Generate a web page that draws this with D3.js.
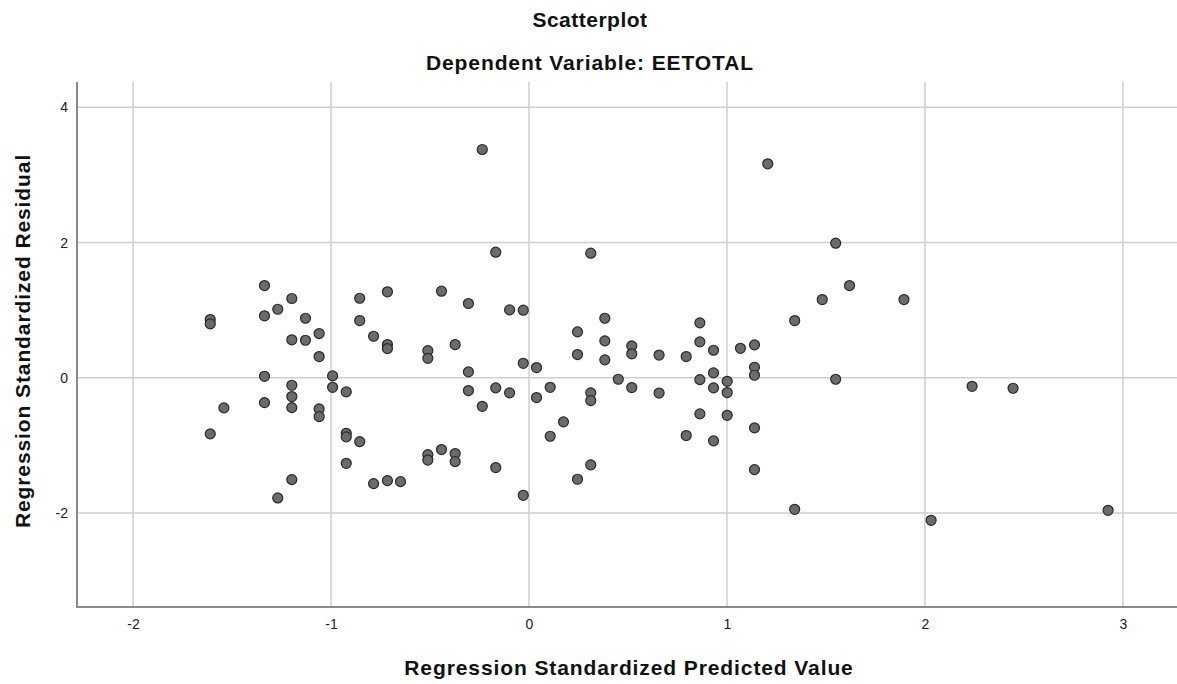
<!DOCTYPE html>
<html>
<head>
<meta charset="utf-8">
<script src="https://cdn.jsdelivr.net/npm/d3@7"></script>
<style>
  body { margin: 0; background: #fff; }
  svg { display: block; }
  text { font-family: "Liberation Sans", Arial, sans-serif; }
</style>
</head>
<body>
<svg id="chart" width="1177" height="684"></svg>
<script>
// Data: regression standardized predicted value (x) and standardized residual (y)
const predicted = [
  -1.610, -1.610, -1.610, -1.541,
  -1.336, -1.336, -1.336, -1.336,
  -1.269, -1.269,
  -1.198, -1.198, -1.198, -1.198, -1.198, -1.198,
  -1.129, -1.129,
  -1.060, -1.060, -1.060, -1.060,
  -0.992, -0.992,
  -0.923, -0.923, -0.923, -0.923,
  -0.855, -0.855, -0.855,
  -0.785, -0.785,
  -0.715, -0.715, -0.715, -0.715,
  -0.649,
  -0.511, -0.511, -0.511, -0.511,
  -0.442, -0.442,
  -0.373, -0.373, -0.373,
  -0.306, -0.306, -0.306,
  -0.236, -0.236,
  -0.168, -0.168, -0.168,
  -0.098, -0.098,
  -0.029, -0.029, -0.029,
  0.038, 0.038,
  0.107, 0.107,
  0.174,
  0.245, 0.245, 0.245,
  0.312, 0.312, 0.312, 0.312,
  0.383, 0.383, 0.383,
  0.451,
  0.519, 0.519, 0.519,
  0.657, 0.657,
  0.794, 0.794,
  0.863, 0.863, 0.863, 0.863,
  0.932, 0.932, 0.932, 0.932,
  1.001, 1.001, 1.001,
  1.068,
  1.139, 1.139, 1.139, 1.139, 1.139,
  1.206,
  1.342, 1.342,
  1.481,
  1.549, 1.549,
  1.619,
  1.894,
  2.031,
  2.238,
  2.445,
  2.925
];
const residual = [
  0.861, 0.797, -0.830, -0.445,
  1.364, 0.916, 0.022, -0.367,
  1.013, -1.777,
  1.172, 0.561, -0.111, -0.278, -0.441, -1.506,
  0.880, 0.555,
  0.654, 0.314, -0.460, -0.574,
  0.028, -0.141,
  -0.209, -0.821, -0.874, -1.265,
  1.176, 0.846, -0.944,
  0.614, -1.565,
  1.271, 0.491, 0.432, -1.521,
  -1.536,
  0.402, 0.288, -1.136, -1.217,
  1.280, -1.062,
  0.491, -1.121, -1.240,
  1.098, 0.087, -0.189,
  3.376, -0.422,
  1.857, -0.149, -1.328,
  1.004, -0.223,
  0.999, 0.214, -1.738,
  0.151, -0.293,
  -0.141, -0.865,
  -0.652,
  0.679, 0.343, -1.501,
  1.842, -0.223, -0.337, -1.288,
  0.880, 0.546, 0.265,
  -0.022,
  0.472, 0.354, -0.145,
  0.336, -0.226,
  0.314, -0.855,
  0.812, 0.531, -0.027, -0.534,
  0.407, 0.072, -0.149, -0.933,
  -0.052, -0.219, -0.555,
  0.436,
  0.487, 0.155, 0.037, -0.741, -1.358,
  3.164,
  0.846, -1.945,
  1.157,
  1.990, -0.022,
  1.364,
  1.157,
  -2.108,
  -0.126,
  -0.155,
  -1.960
];
const xTicks = [-2, -1, 0, 1, 2, 3];
const yTicks = [-2, 0, 2, 4];
const titleText = "Scatterplot";
const subtitleText = "Dependent Variable: EETOTAL";
const xLabel = "Regression Standardized Predicted Value";
const yLabel = "Regression Standardized Residual";

const svg = d3.select("#chart");
const pLeft = 77, pRight = 1177, pTop = 82, pBottom = 607;

const x = d3.scaleLinear().domain([-2.283, 3.273]).range([pLeft, pRight]);
const y = d3.scaleLinear().domain([-3.39, 4.374]).range([pBottom, pTop]);

// Grid lines
const grid = svg.append("g");
grid.selectAll("line.vx").data(xTicks).enter().append("line")
  .attr("x1", d => x(d)).attr("x2", d => x(d))
  .attr("y1", pTop).attr("y2", pBottom)
  .attr("stroke", "#cfcfcf").attr("stroke-width", 1.5);
grid.selectAll("line.hy").data(yTicks).enter().append("line")
  .attr("x1", pLeft).attr("x2", pRight)
  .attr("y1", d => y(d)).attr("y2", d => y(d))
  .attr("stroke", "#cfcfcf").attr("stroke-width", 1.5);

// Axes
const fmt = d => String(d);
const xAxis = d3.axisBottom(x).tickValues(xTicks).tickSize(0).tickPadding(12).tickFormat(fmt);
const yAxis = d3.axisLeft(y).tickValues(yTicks).tickSize(0).tickPadding(9).tickFormat(fmt);

const gx = svg.append("g").attr("transform", `translate(0,${pBottom})`).call(xAxis);
const gy = svg.append("g").attr("transform", `translate(${pLeft},0)`).call(yAxis);
[gx, gy].forEach(g => {
  g.select(".domain").remove();
  g.selectAll("text").attr("font-size", 14).attr("fill", "#222")
    .attr("font-family", "'Liberation Sans', Arial, sans-serif");
});

svg.append("line").attr("x1", pLeft).attr("x2", pLeft).attr("y1", pTop).attr("y2", pBottom + 1)
  .attr("stroke", "#8a8a8a").attr("stroke-width", 2);
svg.append("line").attr("x1", pLeft - 1).attr("x2", pRight).attr("y1", pBottom).attr("y2", pBottom)
  .attr("stroke", "#8a8a8a").attr("stroke-width", 2);

// Points
const pts = predicted.map((p, i) => ({ p, r: residual[i] }));
svg.append("g").selectAll("circle").data(pts).enter().append("circle")
  .attr("cx", d => x(d.p)).attr("cy", d => y(d.r)).attr("r", 5)
  .attr("fill", "#6b6b6b").attr("stroke", "#2a2a2a").attr("stroke-width", 1.2);

// Titles
const bold = (sel) => sel.attr("font-size", 21).attr("font-weight", "bold")
  .attr("letter-spacing", "0.9px").attr("fill", "#111").attr("text-anchor", "middle");
svg.append("text").attr("x", 590).attr("y", 27).call(bold).attr("letter-spacing", "0.5px").text(titleText);
svg.append("text").attr("x", 590).attr("y", 70).call(bold).text(subtitleText);
svg.append("text").attr("x", 629).attr("y", 675).call(bold).text(xLabel);
svg.append("text").attr("transform", `translate(30,341) rotate(-90)`).call(bold).text(yLabel);
</script>
</body>
</html>
